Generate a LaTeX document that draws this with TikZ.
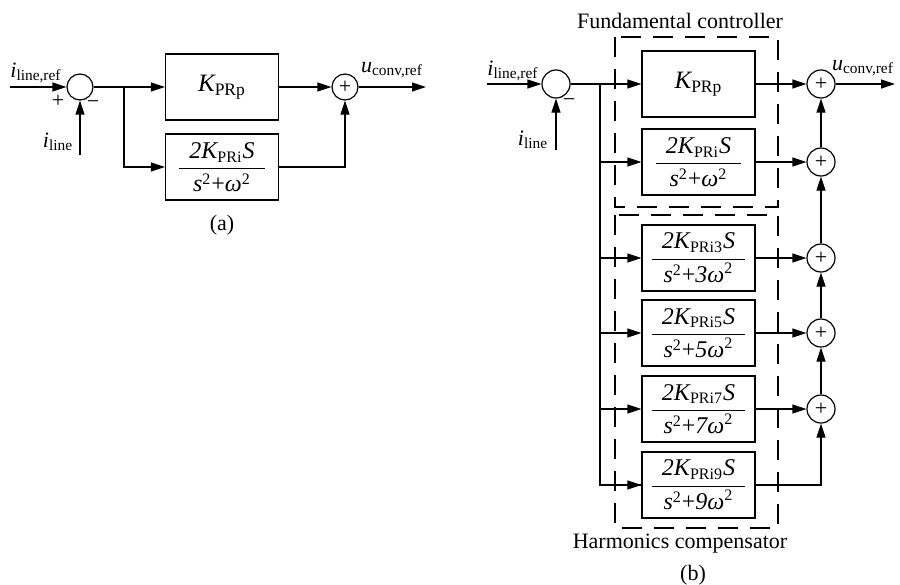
\documentclass[tikz,border=0pt]{standalone}
\usepackage{amsmath}
\usepackage{fontspec}
\setmainfont{Liberation Serif}
\usetikzlibrary{arrows.meta,positioning}
\newcommand{\mi}[1]{\text{\itshape #1}}
\newcommand{\prfrac}[2]{$\dfrac{\hspace{5pt}#1\hspace{5pt}}{#2}$}
\newcommand{\prgain}[1]{\prfrac{\mi{2K}_{\text{PRi#1}}\mi{S}}{\mi{s}^{\text{2}}\text{+}\mi{#1ω}^{\text{2}}}}

\begin{document}
\begin{tikzpicture}[x=0.5pt,y=-0.5pt,>={Triangle[length=7pt,width=4.5pt]},line width=0.6pt,
  font=\fontsize{11}{13}\selectfont]
  \tikzset{block/.style={draw,minimum width=56.5pt,minimum height=33pt,inner sep=0pt,font=\fontsize{12}{14}\selectfont},
    sumnode/.style={draw,circle,minimum size=13pt,inner sep=0pt},
    group/.style={draw,dash pattern=on 10pt off 6pt}}
  \useasboundingbox (0,0) rectangle (900,584);
  % (a)
  \node[sumnode] (suma) at (80,87) {};
  \coordinate (ina) at (10,87);
  \coordinate (fba) at (80,155);
  \coordinate (bra) at (124,87);
  \node[block] (kpa) at (222,87) {\fontsize{12.5}{14}\selectfont$\mi{K}_{\text{PRp}}$};
  \node[block] (kia) at (222,167) {\prgain{}};
  \node[sumnode] (outsuma) at (345,87) {+};
  \coordinate (outa) at (426,87);
  \draw[->] (ina) -- (suma.west);
  \draw[->] (fba) -- (suma.south);
  \draw[->] (suma.east) -- (kpa.west);
  \draw[->] (bra) |- (kia.west);
  \draw[->] (kpa.east) -- (outsuma.west);
  \draw[->] (kia.east) -| (outsuma.south);
  \draw[->] (outsuma.east) -- (outa);
  \node (refa) at (36,73) {$\mi{i}_{\text{line,ref}}$};
  \node at (58,101) {+};
  \node at (93,105) {−};
  \node (linea) at (58,142) {$\mi{i}_{\text{line}}$};
  \node (ua) at (392,70) {$\mi{u}_{\text{conv,ref}}$};
  \node at (222,225) {(a)};
  % (b)
  \draw[group] (615,37) rectangle (778,207);
  \draw[group] (615,215) rectangle (778,528);
  \node[sumnode,minimum size=14pt] (sumb) at (556,84) {};
  \coordinate (inb) at (487,84);
  \coordinate (fbb) at (556,150);
  \coordinate (brb) at (600,84);
  \node[block] (k0) at (698.5,84) {\fontsize{12.5}{14}\selectfont$\mi{K}_{\text{PRp}}$};
  \node[block] (k1) at (698.5,162) {\prgain{}};
  \node[block] (k3) at (698.5,258) {\prgain{3}};
  \node[block] (k5) at (698.5,333) {\prgain{5}};
  \node[block] (k7) at (698.5,409) {\prgain{7}};
  \node[block] (k9) at (698.5,485) {\prgain{9}};
  \node[sumnode,minimum size=14pt] (s0) at (821,84) {+};
  \node[sumnode,minimum size=14pt] (s1) at (821,162) {+};
  \node[sumnode,minimum size=14pt] (s3) at (821,258) {+};
  \node[sumnode,minimum size=14pt] (s5) at (821,333) {+};
  \node[sumnode,minimum size=14pt] (s7) at (821,409) {+};
  \coordinate (outb) at (895,84);
  \draw[->] (inb) -- (sumb.west);
  \draw[->] (fbb) -- (sumb.south);
  \draw[->] (sumb.east) -- (k0.west);
  \draw (brb) |- (k9.west);
  \foreach \k in {1,3,5,7,9}
    \draw[->] (brb |- k\k.west) -- (k\k.west);
  \foreach \k in {0,1,3,5,7}
    \draw[->] (k\k.east) -- (s\k.west);
  \draw[->] (s1.north) -- (s0.south);
  \draw[->] (s3.north) -- (s1.south);
  \draw[->] (s5.north) -- (s3.south);
  \draw[->] (s7.north) -- (s5.south);
  \draw[->] (k9.east) -| (s7.south);
  \draw[->] (s0.east) -- (outb);
  \node (refb) at (513,71) {$\mi{i}_{\text{line,ref}}$};
  \node at (569,103) {−};
  \node (lineb) at (533,140) {$\mi{i}_{\text{line}}$};
  \node (ub) at (863,68) {$\mi{u}_{\text{conv,ref}}$};
  \node at (680,21) {Fundamental controller};
  \node at (680,544) {Harmonics compensator};
  \node at (693,575) {(b)};
\end{tikzpicture}
\end{document}
